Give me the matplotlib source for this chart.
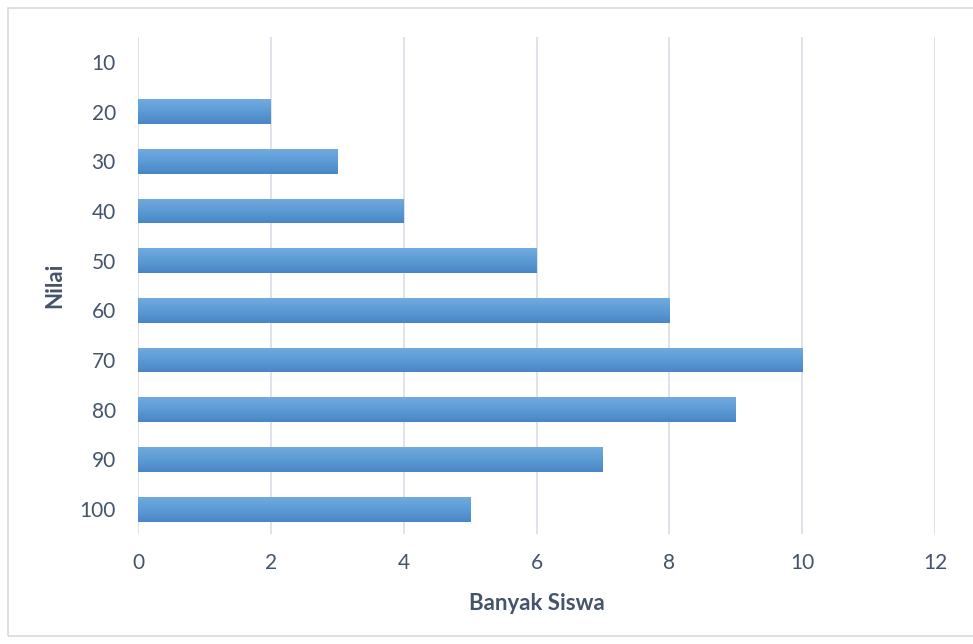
import numpy as np
import matplotlib.pyplot as plt
from matplotlib.colors import LinearSegmentedColormap
from matplotlib.patches import Rectangle

nilai = ['10', '20', '30', '40', '50', '60', '70', '80', '90', '100']
siswa = [0, 2, 3, 4, 6, 8, 10, 9, 7, 5]
xticks = [0, 2, 4, 6, 8, 10, 12]

plt.rcParams['font.family'] = ['Lato', 'DejaVu Sans']
txt = '#44546a'

fig = plt.figure(figsize=(9.73, 6.44), dpi=100)
fig.patches.append(Rectangle((8 / 973, 8 / 644), 1.0, 1 - 16 / 644, transform=fig.transFigure,
                             fill=False, edgecolor='#d9d9d9', linewidth=1.2))
ax = fig.add_axes([138 / 973, 1 - 534 / 644, (935 - 138) / 973, (534 - 37) / 644])

y = np.arange(len(nilai))
bars = ax.barh(y, siswa, height=0.5, color='#5b9bd5', zorder=2)

# lighter at the top of each bar, darker at the bottom (y axis is inverted)
cmap = LinearSegmentedColormap.from_list('g', ['#4a86c6', '#5b9bd5', '#72aade'])
grad = np.linspace(0, 1, 64).reshape(-1, 1)
for b in bars:
    x0, y0 = b.get_x(), b.get_y()
    w, h = b.get_width(), b.get_height()
    if w <= 0:
        continue
    im = ax.imshow(grad, extent=(x0, x0 + w, y0 + h, y0), origin='lower', cmap=cmap,
                   aspect='auto', zorder=3)
    im.set_clip_path(b)

ax.set_xlim(0, 12)
ax.set_ylim(len(nilai) - 0.5, -0.5)
ax.set_yticks(y)
ax.set_yticklabels(nilai)
ax.set_xticks(xticks)
ax.grid(axis='x', color='#d9dde6', linewidth=1.2, zorder=0)
for s in ax.spines.values():
    s.set_visible(False)
ax.tick_params(length=0, labelsize=15, labelcolor=txt)
ax.tick_params(axis='y', pad=16)
ax.tick_params(axis='x', pad=14)
ax.set_xlabel('Banyak Siswa', fontsize=16, fontweight='bold', color=txt, labelpad=14)
ax.set_ylabel('Nilai', fontsize=16, fontweight='bold', color=txt, labelpad=10)

fig.savefig('out.png', dpi=100)
